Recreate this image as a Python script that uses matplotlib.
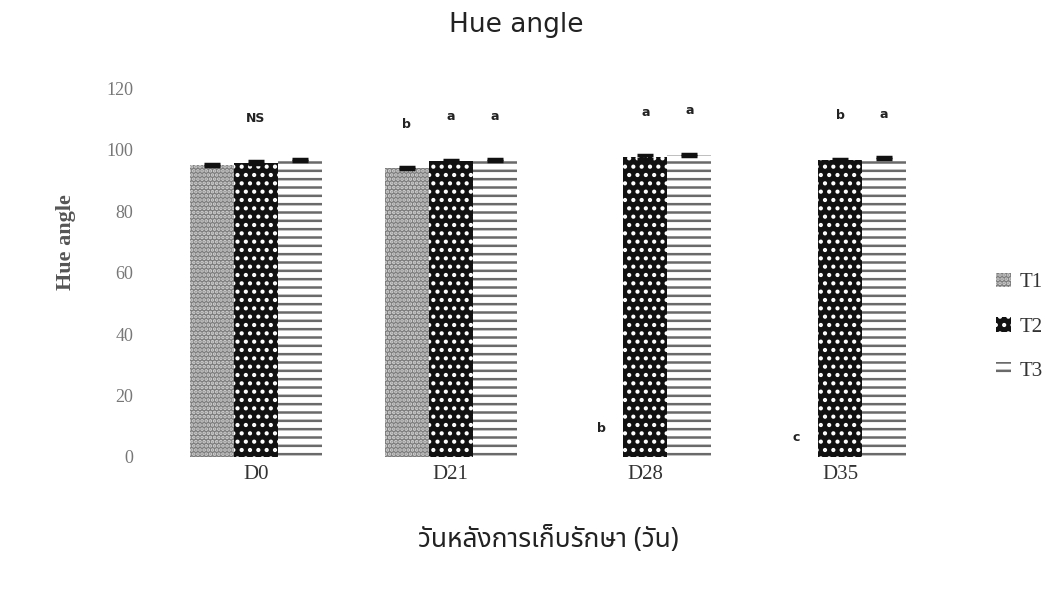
import numpy as np
import matplotlib
matplotlib.use("Agg")
import matplotlib.pyplot as plt
from matplotlib.patches import Patch

days = ["D0", "D21", "D28", "D35"]
treatments = ["T1", "T2", "T3"]

t1 = [95.0, 94.0, 0.0, 0.0]
t2 = [95.8, 96.4, 97.6, 96.6]
t3 = [96.6, 96.6, 98.4, 97.2]

t1_err = [0.4, 0.3, 0.0, 0.0]
t2_err = [0.5, 0.4, 0.6, 0.5]
t3_err = [0.3, 0.3, 0.3, 0.3]

# significance letters per day (T1, T2, T3); "NS" sits over the whole group
letters = [["", "NS", ""], ["b", "a", "a"], ["b", "a", "a"], ["c", "b", "a"]]

plt.rcParams["hatch.linewidth"] = 1.8
serif = ["Liberation Serif", "DejaVu Serif"]
thai = ["Noto Sans Thai", "DejaVu Sans"]

fig = plt.figure(figsize=(10.57, 5.98), dpi=100)
ax = fig.add_axes([0.150, 0.236, 0.737, 0.719])

x = np.arange(len(days))
w = 0.226

styles = [
    dict(facecolor="#7c7c7c", edgecolor="#d4d4d4", hatch="...."),
    dict(facecolor="#111111", edgecolor="#ffffff", hatch=".."),
    dict(facecolor="#ffffff", edgecolor="#6a6a6a", hatch="--"),
]
series = [t1, t2, t3]
errs = [t1_err, t2_err, t3_err]

for i, (vals, err, st) in enumerate(zip(series, errs, styles)):
    pos = x + (i - 1) * w
    ax.bar(pos, vals, width=w, linewidth=0, **st)
    vals = np.array(vals)
    keep = vals > 0
    ax.errorbar(pos[keep], vals[keep], yerr=np.array(err)[keep], fmt="none",
                ecolor="#111111", elinewidth=2, capsize=6, capthick=2.5)

for g in range(len(days)):
    for i in range(3):
        lab = letters[g][i]
        if not lab:
            continue
        val = series[i][g]
        xp = x[g] + (i - 1) * w
        if val > 0:
            y = val + errs[i][g] + 14
        else:
            y = 9.4 if lab == "b" else 6.2
        ax.text(xp, y, lab, ha="center", va="center", fontsize=9,
                fontweight="bold", color="#222222", family="DejaVu Sans")

ax.set_xlim(-0.5, 3.5)
ax.set_ylim(0, 140)
ax.set_yticks(range(0, 121, 20))
ax.set_xticks(x)
ax.set_xticklabels(days, family=serif, fontsize=15, color="#333333")
for lbl in ax.get_yticklabels():
    lbl.set_family(serif)
    lbl.set_fontsize(13)
    lbl.set_color("#777777")
ax.tick_params(length=0)
ax.tick_params(axis="x", pad=6)
ax.tick_params(axis="y", pad=18)
for s in ax.spines.values():
    s.set_visible(False)

ax.set_ylabel("Hue angle", family=serif, fontsize=16, color="#555555",
              fontweight="bold", labelpad=22)
ax.set_xlabel("วันหลังการเก็บรักษา (วัน)", family=thai, fontsize=19,
              color="#222222", labelpad=30)
fig.text(0.488, 0.958, "Hue angle", ha="center", va="center",
         fontsize=19, color="#222222", family="DejaVu Sans")

handles = [Patch(linewidth=0, **st) for st in styles]
fig.legend(handles, treatments, loc="center left", bbox_to_anchor=(0.925, 0.453),
           frameon=False, prop={"family": serif, "size": 15},
           handlelength=0.7, handleheight=0.7, handletextpad=0.4,
           labelspacing=1.2, labelcolor="#333333")

fig.savefig("out.png", dpi=100)
